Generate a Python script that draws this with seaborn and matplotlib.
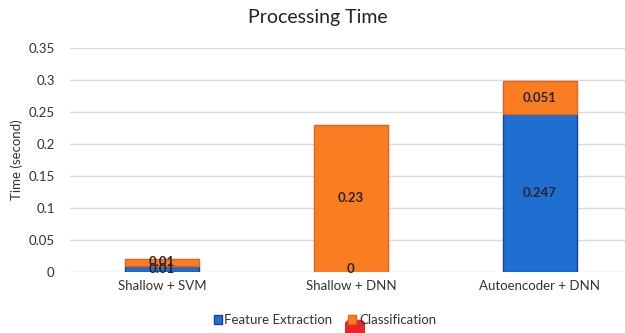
import matplotlib
matplotlib.use("Agg")
import matplotlib.pyplot as plt
from matplotlib.patches import Patch, FancyBboxPatch
import seaborn as sns
import pandas as pd

categories = ["Shallow + SVM", "Shallow + DNN", "Autoencoder + DNN"]
feature_extraction = [0.01, 0.0, 0.247]
classification = [0.01, 0.23, 0.051]
y_ticks = [0, 0.05, 0.1, 0.15, 0.2, 0.25, 0.3, 0.35]
y_tick_labels = ["0", "0.05", "0.1", "0.15", "0.2", "0.25", "0.3", "0.35"]

BLUE, BLUE_EDGE = "#1f6fd0", "#1b3f9a"
ORANGE, ORANGE_EDGE = "#fb7d22", "#e8601a"
TEXT = "#333333"

sns.set_style("white")
plt.rcParams["font.family"] = ["Lato", "DejaVu Sans"]

df = pd.DataFrame({"method": categories,
                   "feature": feature_extraction,
                   "classification": classification})

fig = plt.figure(figsize=(6.25, 3.33), dpi=100)
ax = fig.add_axes([70 / 625, 1 - 272 / 333, 1 - 70 / 625, (272 - 48) / 333])

bar_w = 0.39
sns.barplot(data=df, x="method", y="feature", color=BLUE, ax=ax,
            width=bar_w, edgecolor=BLUE_EDGE, linewidth=1, saturation=1,
            zorder=3)
sns.barplot(data=df, x="method", y="classification", color=ORANGE, ax=ax,
            width=bar_w, edgecolor=ORANGE_EDGE, linewidth=1, saturation=1,
            bottom=df["feature"], zorder=3)

# segment value labels, centred in each stacked segment
for i, (f, c) in enumerate(zip(feature_extraction, classification)):
    ax.text(i, f / 2 + (0.004 if f == 0 else 0), f"{f:g}", ha="center",
            va="center", fontsize=9.5, color="#262626", fontweight="bold", zorder=5)
    ax.text(i, f + c / 2, f"{c:g}", ha="center", va="center",
            fontsize=9.5, color="#262626", fontweight="bold", zorder=5)

ax.set_xlim(-0.487, 2.45)
ax.set_ylim(0, 0.35)
ax.set_yticks(y_ticks)
ax.set_yticklabels(y_tick_labels)
ax.yaxis.grid(True, color="#d9d9d9", linewidth=1)
ax.set_axisbelow(True)
for s in ax.spines.values():
    s.set_visible(False)
ax.tick_params(axis="both", length=0, labelsize=9.5, labelcolor=TEXT)
ax.tick_params(axis="y", pad=11)
ax.tick_params(axis="x", pad=6)
ax.set_xlabel("")
ax.set_ylabel("Time (second)", fontsize=9.5, color=TEXT, labelpad=4)

fig.text(318 / 625, 1 - 17 / 333, "Processing Time", ha="center", va="center",
         fontsize=14, color="#222222")

handles = [Patch(facecolor=BLUE, edgecolor=BLUE_EDGE, label="Feature Extraction"),
           Patch(facecolor=ORANGE, edgecolor=ORANGE_EDGE, label="Classification")]
leg = fig.legend(handles=handles, loc="center", bbox_to_anchor=(0.52, 1 - 320 / 333),
                 ncol=2, frameon=False, fontsize=9.5, handlelength=0.6,
                 handleheight=0.6, handletextpad=0.2, columnspacing=1.2)
for t in leg.get_texts():
    t.set_color(TEXT)

# small red badge at the bottom edge
fig.patches.append(FancyBboxPatch((345 / 625, -0.02), 20 / 625, 0.06,
                                  boxstyle="round,pad=0,rounding_size=0.012",
                                  transform=fig.transFigure, facecolor="#e8242c",
                                  edgecolor="none", figure=fig))

fig.savefig("out.png", dpi=100)
